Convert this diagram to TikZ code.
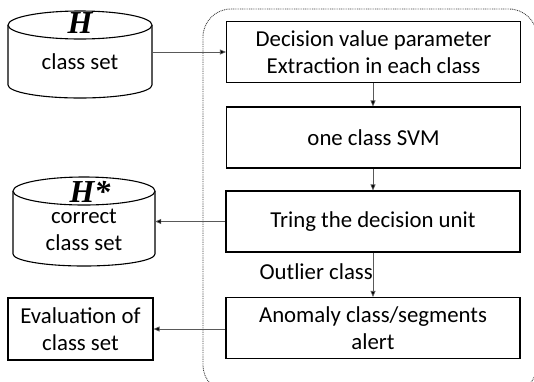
\documentclass[tikz,border=0pt]{standalone}
\usepackage{fontspec}
\setmainfont{Carlito}
\newfontfamily\symfont{Liberation Serif}
\usetikzlibrary{arrows.meta}
\tikzset{
  txt/.style={font=\fontsize{22.8}{26.5}\selectfont},
  stepbox/.style={txt, draw=black, line width=1.1pt, fill=white, inner sep=0pt,
    minimum width=294pt, minimum height=61pt, align=center},
  sidebox/.style={txt, draw=black, line width=1.1pt, fill=white, inner sep=0pt,
    minimum width=145pt, minimum height=62pt, align=center},
  anchorbox/.style={inner sep=0pt, minimum width=#1, minimum height=80pt},
  conn/.style={draw=black!65, line width=0.7pt, -{Triangle[length=6pt,width=5pt,fill=black]}},
  cyl/.style={draw=black, line width=1.1pt, fill=white},
  lbl/.style={txt, inner sep=0pt, align=center},
  sym/.style={inner sep=0pt, font=\symfont\fontsize{32}{32}\selectfont\bfseries\itshape},
  frame/.style={draw=black!75, line width=0.9pt, dash pattern=on 0.9pt off 0.9pt, rounded corners=28pt}
}
\begin{document}
\begin{tikzpicture}[x=1pt, y=-1pt]
  \useasboundingbox (0,0) rectangle (534,381);
  \clip (0,0) rectangle (534,381);

  % dotted frame around the processing chain
  \draw[frame] (203,9) rectangle (537,393);

  % input class set (cylinder)
  \draw[cyl] (8,25) -- (8,85) arc[start angle=180, end angle=0, x radius=72, y radius=13] -- (152,25);
  \draw[cyl] (80,25) ellipse [x radius=72, y radius=14];
  \node[anchorbox=144pt] (hset) at (80,52) {};
  \node[sym] (hsym) at (80,23) {H};
  \node[lbl] (hlbl) at (80,62) {class set};

  % corrected class set (cylinder)
  \draw[cyl] (13,191) -- (13,254) arc[start angle=180, end angle=0, x radius=71, y radius=12] -- (155,191);
  \draw[cyl] (84,191) ellipse [x radius=71, y radius=14];
  \node[anchorbox=142pt] (hstar) at (84,222) {};
  \node[sym] (hstarsym) at (90,192) {H*};
  \node[lbl] (hstarlbl) at (84,230) {correct\\class set};

  % evaluation box
  \node[sidebox] (eval) at (80.5,329) {Evaluation of\\class set};

  % processing steps
  \node[stepbox] (extract) at (373.5,52) {Decision value parameter\\Extraction in each class};
  \node[stepbox] (svm) at (373.5,137.5) {one class SVM};
  \node[stepbox] (unit) at (373,221.5) {Tring the decision unit};
  \node[stepbox] (alert) at (373,328) {Anomaly class/segments\\alert};

  % connectors
  \draw[conn] (hset.east) -- (extract.west |- hset.east);
  \draw[conn] (extract.south -| 373,0) -- (svm.north -| 373,0);
  \draw[conn] (svm.south -| 373,0) -- (unit.north -| 373,0);
  \draw[conn] (unit.south -| 373,0) -- (alert.north -| 373,0);
  \draw[conn] (unit.west) -- (hstar.east |- unit.west);
  \draw[conn] (alert.west |- 0,329) -- (eval.east |- 0,329);

  \node[lbl, anchor=east] (outlier) at (373,272) {Outlier class};
\end{tikzpicture}
\end{document}
